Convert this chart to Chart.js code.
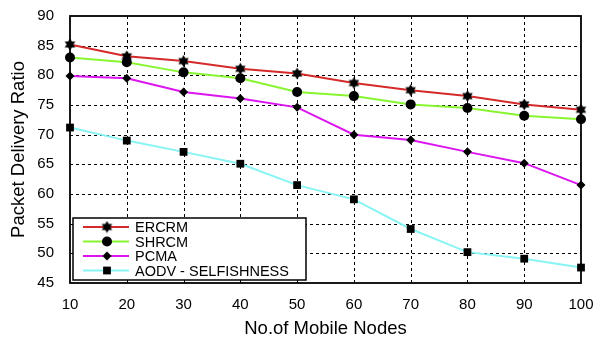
<!DOCTYPE html>
<html><head><meta charset="utf-8">
<script src="https://cdn.jsdelivr.net/npm/chart.js@4"></script>
<style>html,body{margin:0;padding:0;background:#fff}#wrap{width:596px;height:344px}</style>
</head><body><div id="wrap"><canvas id="c" width="596" height="344"></canvas></div>
<script>
const nodes = [10,20,30,40,50,60,70,80,90,100];
const ercrm = [85.2,83.2,82.4,81.1,80.3,78.7,77.5,76.5,75.1,74.2];
const shrcm = [83.0,82.2,80.5,79.5,77.2,76.5,75.1,74.5,73.2,72.6];
const pcma  = [79.9,79.5,77.2,76.1,74.6,70.0,69.1,67.1,65.2,61.5];
const aodv  = [71.2,69.0,67.1,65.1,61.5,59.1,54.1,50.2,49.1,47.6];
const seriesNames = ['ERCRM','SHRCM','PCMA','AODV - SELFISHNESS'];
const yTicks = [45,50,55,60,65,70,75,80,85,90];

function starImg(){
  const c=document.createElement('canvas');c.width=13;c.height=13;const g=c.getContext('2d');
  g.fillStyle='#000';const cx=6.5,cy=6.5,r=6;
  for(const off of [-Math.PI/2, Math.PI/2]){
    g.beginPath();
    for(let i=0;i<3;i++){const a=off+i*2*Math.PI/3;const x=cx+r*Math.cos(a),y=cy+r*Math.sin(a);i?g.lineTo(x,y):g.moveTo(x,y);}
    g.closePath();g.fill();
  }
  return c;
}
const star=starImg();
const toXY = arr => arr.map((v,i)=>({x:nodes[i],y:v}));
const styles=[
  {color:'#d42a2a',ps:star,r:6},
  {color:'#88f530',ps:'circle',r:5},
  {color:'#dc14f0',ps:'rectRot',r:4.5},
  {color:'#88f4f4',ps:'rect',r:5.5}
];
const data=[ercrm,shrcm,pcma,aodv];

const grid={id:'dgrid',beforeDatasetsDraw(ch){
  const a=ch.chartArea,g=ch.ctx,xs=ch.scales.x,ys=ch.scales.y;
  g.save();g.strokeStyle='#000';g.lineWidth=1;g.setLineDash([3,3]);
  nodes.forEach(v=>{const x=Math.round(xs.getPixelForValue(v))+0.5;if(v===10||v===100)return;
    g.beginPath();g.moveTo(x,a.top);g.lineTo(x,a.bottom);g.stroke();});
  yTicks.forEach(v=>{const y=Math.round(ys.getPixelForValue(v))+0.5;if(v===45||v===90)return;
    g.beginPath();g.moveTo(a.left,y);g.lineTo(a.right,y);g.stroke();});
  g.restore();
}};
const frame={id:'frame',afterDraw(ch){
  const a=ch.chartArea,g=ch.ctx;
  g.save();g.strokeStyle='#000';g.lineWidth=1.8;g.strokeRect(a.left,a.top,a.right-a.left,a.bottom-a.top);
  const lx=73,ly=218,lw=233,lh=62;
  g.fillStyle='#fff';g.fillRect(lx,ly,lw,lh);g.lineWidth=1.5;g.strokeRect(lx,ly,lw,lh);
  const ys=[227,241.5,256,270.5];
  g.font='14.5px "Liberation Sans", Arial, sans-serif';g.textBaseline='middle';
  styles.forEach((s,i)=>{
    g.strokeStyle=s.color;g.lineWidth=2;g.beginPath();g.moveTo(83,ys[i]);g.lineTo(129,ys[i]);g.stroke();
    Chart.helpers.drawPoint(g,{pointStyle:s.ps,radius:s.r,borderWidth:0},107,ys[i]);
    g.fillStyle='#000';g.fillText(seriesNames[i],135,ys[i]+1);
  });
  g.restore();
}};

new Chart(document.getElementById('c'),{
  type:'line',
  data:{datasets:data.map((d,i)=>({
    label:seriesNames[i],data:toXY(d),borderColor:styles[i].color,borderWidth:2,
    pointStyle:styles[i].ps,pointRadius:styles[i].r,pointBackgroundColor:'#000',pointBorderColor:'#000',pointBorderWidth:0,
    tension:0,clip:false
  }))},
  options:{
    responsive:false,animation:false,
    layout:{padding:{top:16,right:15,left:0,bottom:0}},
    plugins:{legend:{display:false},tooltip:{enabled:false}},
    scales:{
      x:{type:'linear',min:10,max:100,
        afterBuildTicks:s=>{s.ticks=nodes.map(v=>({value:v}));},
        afterFit:s=>{s.height=61;s.paddingLeft=0;s.paddingRight=0;},
        grid:{display:false},
        border:{display:false},
        ticks:{color:'#000',padding:5,font:{size:15,family:'"Liberation Sans", Arial'},maxRotation:0},
        title:{display:true,text:'No.of Mobile Nodes',color:'#000',font:{size:18.5,family:'"Liberation Sans", Arial'},padding:{top:5}}
      },
      y:{min:45,max:90,
        afterBuildTicks:s=>{s.ticks=yTicks.map(v=>({value:v}));},
        afterFit:s=>{s.width=70;s.paddingTop=0;s.paddingBottom=0;},
        grid:{display:false},
        border:{display:false},
        ticks:{color:'#000',padding:8,font:{size:15,family:'"Liberation Sans", Arial'}},
        title:{display:true,text:'Packet Delivery Ratio',color:'#000',font:{size:18.5,family:'"Liberation Sans", Arial'},padding:{top:8,bottom:4}}
      }
    }
  },
  plugins:[grid,frame]
});
</script></body></html>
